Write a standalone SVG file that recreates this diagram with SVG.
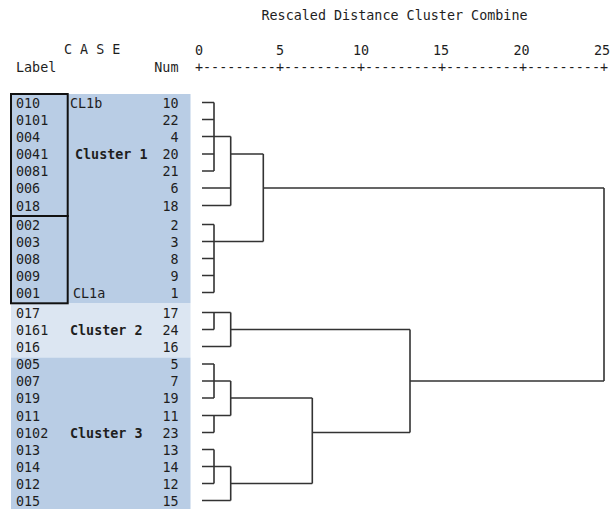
<svg xmlns="http://www.w3.org/2000/svg" width="611" height="509" viewBox="0 0 611 509">
<style>
text{font-family:"DejaVu Sans Mono","Liberation Mono",monospace;font-size:13.4px;fill:#1e1e1e}
.b{font-weight:bold}
.n{text-anchor:end}
.m{text-anchor:middle}
.bgd{fill:#b9cde5}
.bgl{fill:#dce6f2}
.box{fill:none;stroke:#111;stroke-width:2}
.ln{fill:none;stroke:#333;stroke-width:1.6}
</style>
<rect width="611" height="509" fill="#fff"/>
<g id="header">
<text x="261.5" y="20">Rescaled Distance Cluster Combine</text>
<text x="64" y="54">C A S E</text>
<text x="16" y="71.5">Label</text>
<text x="178.5" y="71.5" class="n">Num</text>
<text x="199" y="54.5" class="m">0</text>
<text x="280" y="54.5" class="m">5</text>
<text x="361" y="54.5" class="m">10</text>
<text x="441" y="54.5" class="m">15</text>
<text x="521.5" y="54.5" class="m">20</text>
<text x="602" y="54.5" class="m">25</text>
<text x="194.9" y="71.5" textLength="413.2" lengthAdjust="spacing">+---------+---------+---------+---------+---------+</text>
</g>
<g id="backgrounds">
<rect class="bgd" x="11" y="94" width="179.5" height="209"/>
<rect class="bgl" x="11" y="303" width="179.5" height="54.5"/>
<rect class="bgd" x="11" y="357.5" width="179.5" height="151.5"/>
</g>
<g id="cluster1">
<text x="75" y="159" class="b">Cluster 1</text>
<g id="CL1b"><rect class="box" x="11" y="94" width="56.7" height="122"/><text x="70" y="107.5">CL1b</text></g>
<g id="CL1a"><rect class="box" x="11" y="216" width="56.7" height="87.3"/><text x="73" y="297.5">CL1a</text></g>
<g id="r10"><text x="16" y="107.5">010</text><text x="178.5" y="107.5" class="n">10</text></g>
<g id="r22"><text x="16" y="124.5">0101</text><text x="178.5" y="124.5" class="n">22</text></g>
<g id="r4"><text x="16" y="141.5">004</text><text x="178.5" y="141.5" class="n">4</text></g>
<g id="r20"><text x="16" y="159">0041</text><text x="178.5" y="159" class="n">20</text></g>
<g id="r21"><text x="16" y="176">0081</text><text x="178.5" y="176" class="n">21</text></g>
<g id="r6"><text x="16" y="193">006</text><text x="178.5" y="193" class="n">6</text></g>
<g id="r18"><text x="16" y="210.5">018</text><text x="178.5" y="210.5" class="n">18</text></g>
<g id="r2"><text x="16" y="229.5">002</text><text x="178.5" y="229.5" class="n">2</text></g>
<g id="r3"><text x="16" y="246.5">003</text><text x="178.5" y="246.5" class="n">3</text></g>
<g id="r8"><text x="16" y="263.5">008</text><text x="178.5" y="263.5" class="n">8</text></g>
<g id="r9"><text x="16" y="280.5">009</text><text x="178.5" y="280.5" class="n">9</text></g>
<g id="r1"><text x="16" y="297.5">001</text><text x="178.5" y="297.5" class="n">1</text></g>
</g>
<g id="cluster2">
<text x="70" y="334.5" class="b">Cluster 2</text>
<g id="r17"><text x="16" y="317.5">017</text><text x="178.5" y="317.5" class="n">17</text></g>
<g id="r24"><text x="16" y="334.5">0161</text><text x="178.5" y="334.5" class="n">24</text></g>
<g id="r16"><text x="16" y="351.5">016</text><text x="178.5" y="351.5" class="n">16</text></g>
</g>
<g id="cluster3">
<text x="70" y="437.5" class="b">Cluster 3</text>
<g id="r5"><text x="16" y="369">005</text><text x="178.5" y="369" class="n">5</text></g>
<g id="r7"><text x="16" y="386">007</text><text x="178.5" y="386" class="n">7</text></g>
<g id="r19"><text x="16" y="403">019</text><text x="178.5" y="403" class="n">19</text></g>
<g id="r11"><text x="16" y="420.5">011</text><text x="178.5" y="420.5" class="n">11</text></g>
<g id="r23"><text x="16" y="437.5">0102</text><text x="178.5" y="437.5" class="n">23</text></g>
<g id="r13"><text x="16" y="454.5">013</text><text x="178.5" y="454.5" class="n">13</text></g>
<g id="r14"><text x="16" y="471.5">014</text><text x="178.5" y="471.5" class="n">14</text></g>
<g id="r12"><text x="16" y="488.5">012</text><text x="178.5" y="488.5" class="n">12</text></g>
<g id="r15"><text x="16" y="505.5">015</text><text x="178.5" y="505.5" class="n">15</text></g>
</g>
<g id="connectors" class="ln">
<path d="M202 102.5H214M202 119.5H214M202 136.5H230.7M202 154H214M202 171H214M214 102.5V171M202 188H230.7M202 205.5H230.7M230.7 136.5V205.5M230.7 154H263.3"/>
<path d="M202 224.5H214M202 241.5H263.3M202 258.5H214M202 275.5H214M202 292.5H214M214 224.5V292.5M263.3 154V241.5M263.3 188H604M604 188V381"/>
<path d="M202 312.5H230.7M202 329.5H214M214 312.5V329.5M202 346.5H230.7M230.7 312.5V346.5M230.7 329.5H410M410 329.5V432.5M410 381H604"/>
<path d="M202 364H214M202 381H230.7M202 398H214M214 364V398M202 415.5H230.7M202 432.5H214M214 415.5V432.5M230.7 381V415.5M230.7 398H312.3"/>
<path d="M202 449.5H214M202 466.5H230.7M202 483.5H214M214 449.5V483.5M202 500.5H230.7M230.7 466.5V500.5M230.7 483.5H312.3M312.3 398V483.5M312.3 432.5H410"/>
</g>
</svg>
